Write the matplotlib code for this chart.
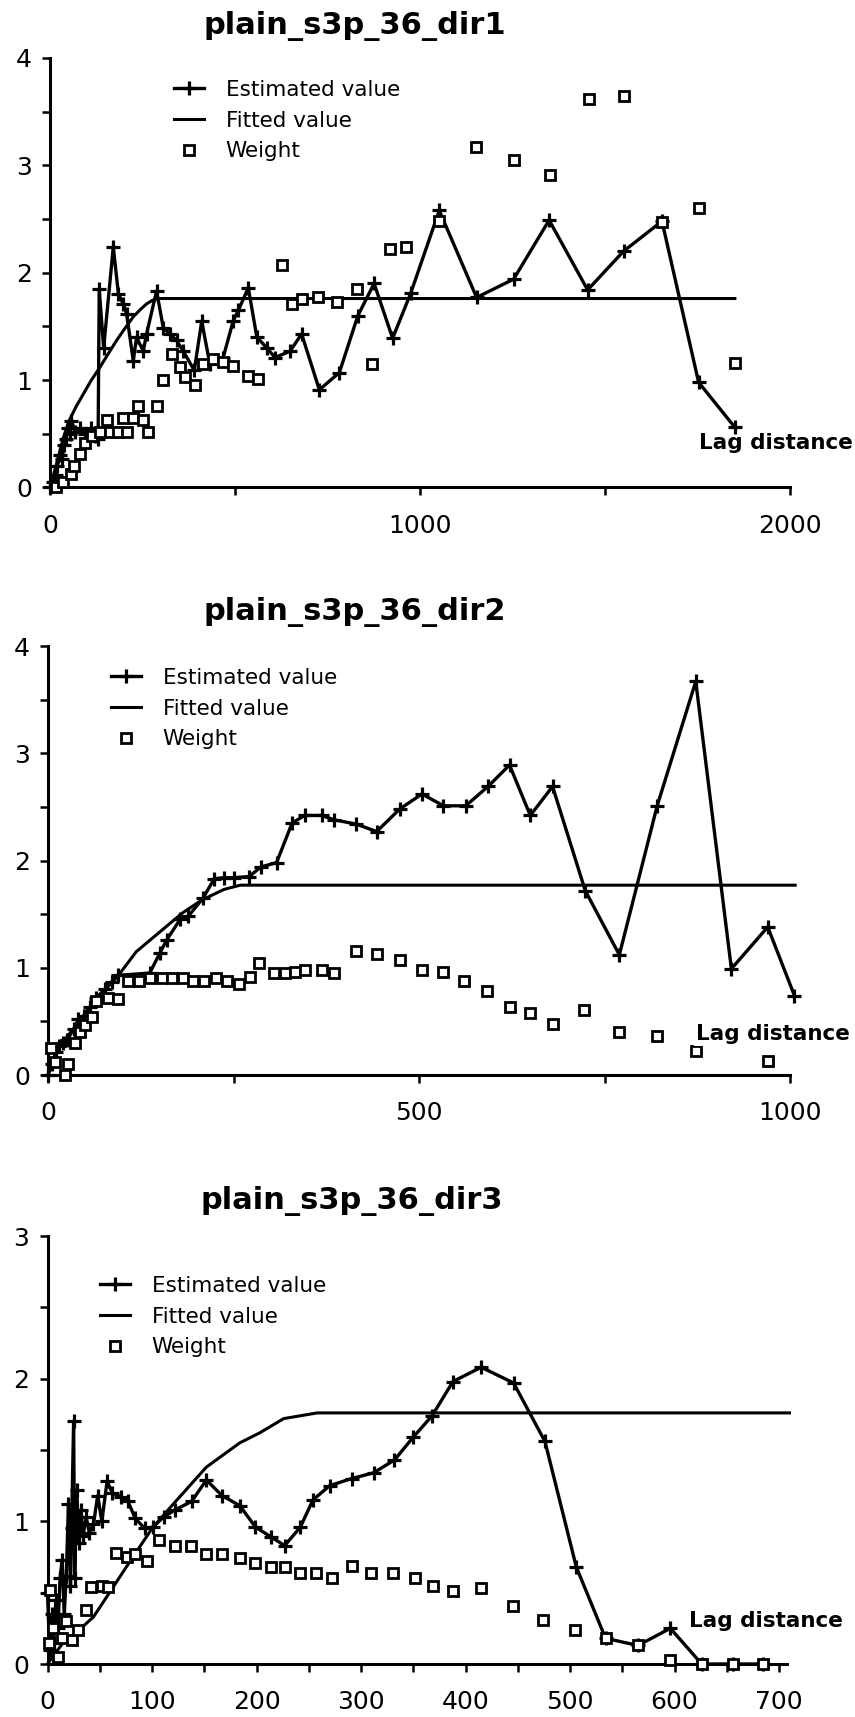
import matplotlib
matplotlib.use("Agg")
import matplotlib.pyplot as plt
from matplotlib.ticker import MultipleLocator

# ---- data ----
titles = ["plain_s3p_36_dir1", "plain_s3p_36_dir2", "plain_s3p_36_dir3"]
legend_labels = ["Estimated value", "Fitted value", "Weight"]
lag_label = "Lag distance"

p1_est_x = [0, 8, 15, 20, 27, 33, 38, 43, 48, 53, 58, 68, 80, 95, 110, 122, 130, 133, 145, 171,
            185, 198, 207, 225, 234, 252, 261, 288, 306, 324, 342, 360, 390, 410, 432, 468, 495, 509, 536, 559,
            586, 608, 649, 680, 728, 782, 832, 876, 926, 975, 1052, 1153, 1253, 1349, 1453, 1550, 1654, 1753, 1851]
p1_est_y = [0, 0.05, 0.12, 0.2, 0.3, 0.27, 0.4, 0.45, 0.55, 0.5, 0.62, 0.52, 0.55, 0.5, 0.55, 0.48, 0.45, 1.85, 1.3, 2.24,
            1.8, 1.71, 1.62, 1.18, 1.4, 1.27, 1.43, 1.83, 1.49, 1.43, 1.37, 1.27, 1.09, 1.55, 1.15, 1.21, 1.55, 1.65, 1.86, 1.40,
            1.30, 1.21, 1.27, 1.43, 0.91, 1.07, 1.60, 1.90, 1.39, 1.81, 2.58, 1.77, 1.94, 2.49, 1.84, 2.20, 2.48, 0.98, 0.56]
p1_fit_x = [0, 20, 35, 50, 70, 90, 110, 135, 160, 180, 200, 225, 245, 261, 275, 290, 1851]
p1_fit_y = [0, 0.25, 0.45, 0.61, 0.75, 0.87, 0.99, 1.12, 1.26, 1.37, 1.47, 1.59, 1.66, 1.71, 1.74, 1.76, 1.76]
p1_w_x = [15, 36, 58, 64, 81, 95, 113, 135, 153, 162, 185, 196, 207, 225, 239, 252, 266, 288, 306, 329,
          351, 365, 392, 414, 441, 468, 495, 536, 563, 626, 653, 680, 725, 775, 829, 869, 919, 963, 1052, 1150,
          1253, 1352, 1456, 1550, 1654, 1753, 1851]
p1_w_y = [0.0, 0.05, 0.13, 0.2, 0.31, 0.41, 0.48, 0.52, 0.63, 0.52, 0.52, 0.65, 0.52, 0.65, 0.76, 0.63, 0.52, 0.76, 1.0, 1.24,
          1.12, 1.03, 0.95, 1.15, 1.2, 1.17, 1.13, 1.04, 1.01, 2.07, 1.71, 1.76, 1.77, 1.73, 1.85, 1.15, 2.22, 2.24, 2.48, 3.17,
          3.05, 2.91, 3.62, 3.65, 2.47, 2.60, 1.16]

p2_est_x = [0, 5, 11, 15, 20, 26, 35, 41, 48, 56, 65, 77, 86, 95, 137, 151, 160, 178, 189, 209,
            224, 237, 250, 271, 287, 308, 329, 346, 369, 385, 415, 443, 474, 504, 533, 563, 593, 622, 650, 680,
            724, 770, 821, 873, 921, 970, 1006]
p2_est_y = [0, 0.1, 0.21, 0.27, 0.30, 0.33, 0.43, 0.52, 0.55, 0.63, 0.72, 0.80, 0.87, 0.93, 0.95, 1.14, 1.26, 1.45, 1.48, 1.65,
            1.83, 1.84, 1.84, 1.85, 1.94, 1.98, 2.35, 2.42, 2.42, 2.38, 2.34, 2.27, 2.48, 2.62, 2.51, 2.51, 2.69, 2.89, 2.42, 2.69,
            1.72, 1.12, 2.51, 3.67, 0.99, 1.38, 0.74]
p2_fit_x = [0, 10, 25, 50, 75, 95, 119, 150, 181, 207, 237, 259, 1007]
p2_fit_y = [0, 0.2, 0.35, 0.57, 0.78, 0.93, 1.15, 1.33, 1.51, 1.63, 1.73, 1.77, 1.77]
p2_w_x = [4, 9, 23, 27, 36, 43, 50, 59, 65, 81, 95, 108, 122, 137, 153, 167, 182, 196, 210, 227,
          241, 257, 272, 284, 304, 320, 333, 347, 369, 385, 415, 443, 474, 504, 532, 561, 591, 622, 650, 680,
          722, 769, 821, 873, 970]
p2_w_y = [0.25, 0.12, 0.0, 0.10, 0.30, 0.40, 0.47, 0.54, 0.69, 0.72, 0.71, 0.88, 0.88, 0.90, 0.90, 0.90, 0.90, 0.88, 0.88, 0.90,
          0.88, 0.85, 0.91, 1.04, 0.95, 0.95, 0.96, 0.98, 0.98, 0.95, 1.16, 1.13, 1.07, 0.98, 0.96, 0.88, 0.78, 0.63, 0.58, 0.48,
          0.61, 0.40, 0.36, 0.22, 0.13]

p3_est_x = [0, 2, 4, 6, 8, 10, 12, 14, 16, 18, 20, 22, 23, 25, 26, 28, 30, 32, 34, 37,
            40, 44, 48, 52, 57, 62, 70, 77, 84, 93, 101, 111, 122, 138, 152, 167, 184, 199, 214, 227,
            242, 254, 270, 291, 312, 332, 350, 368, 388, 415, 446, 476, 506, 534, 565, 596, 626, 656, 685]
p3_est_y = [0.50, 0.10, 0.35, 0.15, 0.45, 0.25, 0.60, 0.73, 0.35, 0.62, 1.12, 0.55, 0.95, 1.70, 0.60, 1.22, 0.85, 1.08, 0.90, 1.03,
            0.92, 0.98, 1.18, 1.00, 1.28, 1.20, 1.17, 1.14, 1.02, 0.95, 0.96, 1.03, 1.08, 1.14, 1.29, 1.18, 1.11, 0.96, 0.89, 0.83,
            0.96, 1.15, 1.25, 1.30, 1.34, 1.43, 1.59, 1.74, 1.98, 2.08, 1.97, 1.56, 0.68, 0.18, 0.13, 0.25, 0.0, 0.0, 0.0]
p3_fit_x = [0, 15, 32, 44, 62, 79, 100, 119, 152, 184, 203, 226, 258, 710]
p3_fit_y = [0, 0.15, 0.25, 0.33, 0.53, 0.72, 0.95, 1.11, 1.38, 1.55, 1.62, 1.72, 1.76, 1.76]
p3_w_x = [1, 2, 5, 10, 14, 18, 23, 29, 37, 42, 52, 58, 66, 76, 84, 95, 107, 122, 137, 152,
          167, 184, 199, 214, 227, 242, 257, 272, 291, 310, 331, 352, 369, 388, 415, 445, 474, 505, 534, 565,
          596, 626, 656, 685]
p3_w_y = [0.15, 0.52, 0.25, 0.05, 0.18, 0.30, 0.17, 0.24, 0.38, 0.54, 0.55, 0.54, 0.78, 0.75, 0.77, 0.72, 0.87, 0.83, 0.83, 0.77,
          0.77, 0.74, 0.71, 0.68, 0.68, 0.64, 0.64, 0.60, 0.69, 0.64, 0.64, 0.60, 0.55, 0.51, 0.53, 0.41, 0.31, 0.24, 0.18, 0.13,
          0.03, 0.0, 0.0, 0.0]

W, H = 855, 1717
fig = plt.figure(figsize=(W / 100, H / 100), dpi=100)
plt.rcParams['font.family'] = ['DejaVu Sans']


def rect(px0, px1, py0, pytop):
    # pixel box -> figure fraction
    return [px0 / W, 1 - py0 / H, (px1 - px0) / W, (py0 - pytop) / H]


def panel(box, xlim, ylim, xmajor, xminor, ymax, est, fit, wt, title, title_xy, leg_xy, lag_xy, lag_box=False):
    ax = fig.add_axes(box)
    ax.set_xlim(*xlim)
    ax.set_ylim(*ylim)
    for s in ["top", "right"]:
        ax.spines[s].set_visible(False)
    for s in ["left", "bottom"]:
        ax.spines[s].set_linewidth(2.2)
    ax.spines["left"].set_bounds(0, ymax)
    ax.xaxis.set_major_locator(MultipleLocator(xmajor))
    ax.xaxis.set_minor_locator(MultipleLocator(xminor))
    ax.yaxis.set_major_locator(MultipleLocator(1))
    ax.yaxis.set_minor_locator(MultipleLocator(0.5))
    ax.tick_params(which="both", direction="out", length=6, width=1.8, labelsize=18)
    ax.tick_params(axis="x", which="major", pad=13)
    ax.tick_params(axis="y", which="major", pad=7)

    le, = ax.plot(est[0], est[1], color="black", lw=2.4, marker="+", ms=10.5, mew=2.3,
                  clip_on=False, zorder=3, label=legend_labels[0])
    lf, = ax.plot(fit[0], fit[1], color="black", lw=2.2, clip_on=False, zorder=2, label=legend_labels[1])
    lw_, = ax.plot(wt[0], wt[1], ls="none", marker="s", ms=6.5, mew=2.0, mfc="white", mec="black",
                   clip_on=False, zorder=4, label=legend_labels[2])

    fig.text(title_xy[0] / W, 1 - title_xy[1] / H, title, ha="center", va="center",
             fontsize=22, fontweight="bold")
    fig.legend(handles=[le, lf, lw_], loc="upper left",
               bbox_to_anchor=(leg_xy[0] / W, 1 - leg_xy[1] / H), frameon=False,
               fontsize=15.5, borderpad=0, borderaxespad=0, handlelength=1.4,
               handletextpad=1.0, labelspacing=0.49, numpoints=1)
    kw = dict(ha="left", va="center", fontsize=15.5, fontweight="bold", zorder=6, clip_on=False)
    if lag_box:
        kw["bbox"] = dict(facecolor="white", edgecolor="none", pad=1)
    ax.text(lag_xy[0], lag_xy[1], lag_label, **kw)
    return ax


panel(rect(50, 790, 487.5, 58), (0, 2000), (0, 4), 1000, 500, 4,
      (p1_est_x, p1_est_y), (p1_fit_x, p1_fit_y), (p1_w_x, p1_w_y),
      titles[0], (355, 26), (174, 80), (1753, 0.41))

panel(rect(48, 790, 1075, 646), (0, 1000), (0, 4), 500, 250, 4,
      (p2_est_x, p2_est_y), (p2_fit_x, p2_fit_y), (p2_w_x, p2_w_y),
      titles[1], (355, 612), (111, 668), (873, 0.38), lag_box=True)

panel(rect(47.5, 787.4, 1664, 1236), (0, 708), (0, 3), 100, 50, 3,
      (p3_est_x, p3_est_y), (p3_fit_x, p3_fit_y), (p3_w_x, p3_w_y),
      titles[2], (352, 1201), (100, 1276), (614, 0.30))

fig.savefig("out.png", dpi=100)
